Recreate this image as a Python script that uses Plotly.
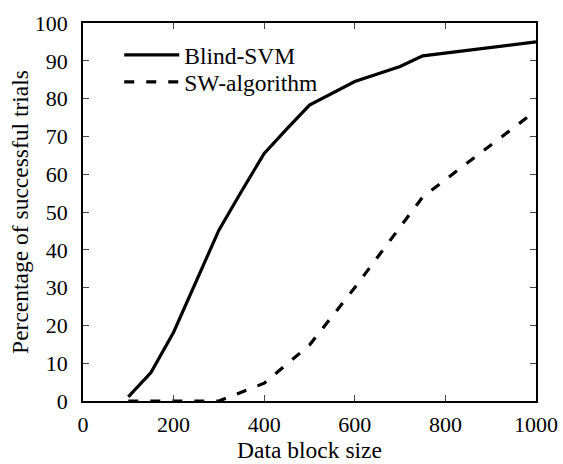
import plotly.graph_objects as go

x_svm = [100, 150, 200, 250, 300, 350, 400, 450, 500, 600, 700, 750, 1000]
y_svm = [1.1, 7.5, 18.2, 31.5, 45.2, 55.5, 65.5, 72.0, 78.3, 84.5, 88.5, 91.3, 95.0]

x_sw = [100, 200, 300, 400, 500, 600, 700, 750, 1000]
y_sw = [0, 0, 0, 4.7, 14.8, 30.0, 46.0, 54.0, 76.8]

x_ticks = [0, 200, 400, 600, 800, 1000]
y_ticks = [0, 10, 20, 30, 40, 50, 60, 70, 80, 90, 100]

FONT = "Liberation Serif"
TITLE_SIZE = 23.5
TICK_SIZE = 22

fig = go.Figure()
fig.add_trace(go.Scatter(x=x_svm, y=y_svm, mode="lines", name="Blind-SVM",
                         line=dict(color="black", width=3.2), legend="legend",
                         showlegend=True))
fig.add_trace(go.Scatter(x=x_sw, y=y_sw, mode="lines", name="SW-algorithm",
                         line=dict(color="black", width=3.2, dash="10px,12px"),
                         legend="legend2", showlegend=True))

axis_common = dict(showgrid=False, zeroline=False, showline=True, linecolor="black",
                   linewidth=1.5, mirror="ticks", ticks="inside", ticklen=6,
                   tickcolor="#444", tickwidth=1.2, automargin=False,
                   tickfont=dict(family=FONT, size=TICK_SIZE, color="black"))

fig.update_xaxes(range=[0, 1000], tickvals=x_ticks, ticklabelstandoff=3,
                 title=dict(text="Data block size",
                            font=dict(family=FONT, size=TITLE_SIZE, color="black"),
                            standoff=0),
                 **axis_common)
fig.update_yaxes(range=[0, 100], tickvals=y_ticks, ticklabelstandoff=9,
                 title=dict(text="Percentage of successful trials",
                            font=dict(family=FONT, size=TITLE_SIZE, color="black"),
                            standoff=0),
                 **axis_common)

leg_common = dict(xanchor="left", yanchor="top", bgcolor="rgba(0,0,0,0)",
                  borderwidth=0, itemwidth=55, visible=True,
                  font=dict(family=FONT, size=TITLE_SIZE, color="black"))

fig.update_layout(
    width=563, height=464,
    margin=dict(l=83, r=27, t=23, b=63),
    paper_bgcolor="white", plot_bgcolor="white",
    showlegend=True,
    font=dict(family=FONT, size=TITLE_SIZE, color="black"),
    legend=dict(x=0.08, y=0.9735, **leg_common),
    legend2=dict(x=0.08, y=0.902, **leg_common),
)

fig.write_html("out.html", config={"displayModeBar": False},
               post_script="document.body.style.margin='0';document.body.style.overflow='hidden';")
